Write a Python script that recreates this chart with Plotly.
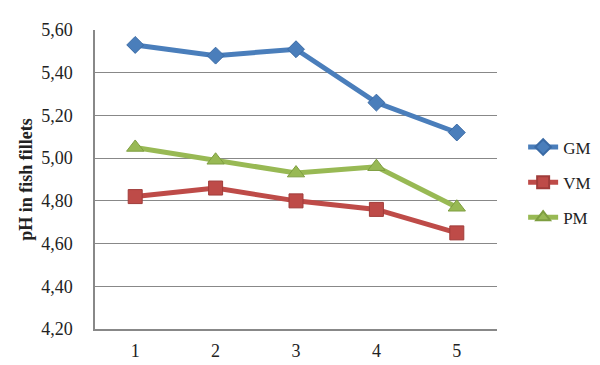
import plotly.graph_objects as go

days = [1, 2, 3, 4, 5]
gm = [5.53, 5.48, 5.51, 5.26, 5.12]
vm = [4.82, 4.86, 4.80, 4.76, 4.65]
pm = [5.05, 4.99, 4.93, 4.96, 4.77]
y_ticks = [4.20, 4.40, 4.60, 4.80, 5.00, 5.20, 5.40, 5.60]

series = [
    ("GM", gm, "#4A7EBB", "#3A6AA5", "diamond", 13),
    ("VM", vm, "#BE4B48", "#A03C3A", "square", 14),
    ("PM", pm, "#98B954", "#7E9E40", "triangle-up", 15),
]

fig = go.Figure()
for name, vals, col, edge, sym, sz in series:
    fig.add_trace(go.Scatter(
        x=days, y=vals, name=name, mode="lines+markers", legendgroup=name,
        line=dict(color=col, width=5),
        marker=dict(symbol=sym, size=sz, color=col, line=dict(color=edge, width=1)),
    ))

font_family = "Liberation Serif, DejaVu Serif, serif"
fig.update_layout(
    width=600, height=365,
    margin=dict(l=87, r=101, t=15, b=39),
    paper_bgcolor="white", plot_bgcolor="white",
    separators=",.",
    font=dict(family=font_family, size=18, color="#222"),
    showlegend=True,
    legend=dict(x=1.065, y=0.49, xanchor="left", yanchor="middle",
                font=dict(size=17), tracegroupgap=10, itemsizing="constant",
                bgcolor="rgba(0,0,0,0)"),
    xaxis=dict(range=[0.5, 5.5], tickvals=days, ticktext=[str(d) for d in days],
               showgrid=False, showline=True, linecolor="#888", linewidth=1.5,
               zeroline=False, ticks="outside", ticklen=5, tickcolor="rgba(0,0,0,0)",
               tickfont=dict(size=18)),
    yaxis=dict(range=[4.20, 5.60], tickvals=y_ticks, tickformat=".2f",
               showgrid=True, gridcolor="#888", gridwidth=1.2,
               showline=True, linecolor="#888", linewidth=1.5,
               zeroline=False, ticks="outside", ticklen=17, tickcolor="rgba(0,0,0,0)",
               tickfont=dict(size=18),
               title=dict(text="<b>pH in fish fillets</b>", font=dict(size=18), standoff=4)),
)

fig.write_html("out.html")
